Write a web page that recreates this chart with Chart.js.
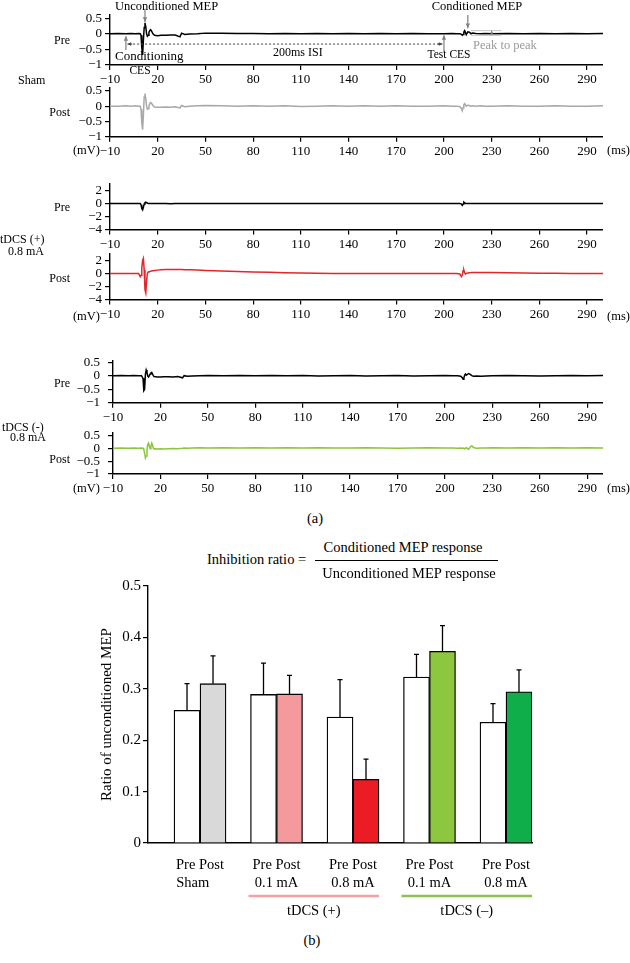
<!DOCTYPE html>
<html>
<head>
<meta charset="utf-8">
<script src="https://cdn.jsdelivr.net/npm/chart.js@4.4.0/dist/chart.umd.min.js"></script>
<style>
body { margin: 0; width: 630px; height: 963px; position: relative; background: #fff; overflow: hidden;
       font-family: "Liberation Serif", "Times New Roman", serif; color: #000; }
canvas { position: absolute; }
.t { position: absolute; line-height: 1; white-space: nowrap; }
</style>
</head>
<body>
<script>
// ---- trace data (ms / mV) ----
var timeMs = [
  -10, -5, 0, 3, 6, 8, 9, 9.5, 10, 10.5, 11, 11.5,
  12, 12.5, 13, 13.5, 14, 14.5, 15, 15.5, 16, 17, 18, 20,
  22, 25, 28, 31, 34, 35, 37, 40, 45, 50, 60, 70,
  80, 90, 100, 110, 120, 130, 140, 150, 160, 170, 180, 190,
  200, 205, 208, 210, 211, 211.5, 212, 212.5, 213, 213.5, 214, 215,
  216, 217, 218, 220, 223, 226, 230, 240, 250, 260, 270, 280, 290, 300
];
var shamPre = [
  0, 0.01, 0, 0.01, 0, 0.01, 0, -0.05, -0.45, -0.68, -0.2, 0.2,
  0.35, 0.22, 0.0, -0.08, -0.05, 0.05, 0.1, 0.13, 0.1, 0.0, -0.05, -0.06,
  -0.05, -0.05, -0.04, -0.04, -0.1, 0.02, -0.02, -0.01, 0.0, 0.02, 0.02, 0.01,
  0.01, 0.0, 0.01, 0.0, 0.01, 0.0, 0.01, 0.0, 0.01, 0.0, 0.01, 0.0,
  0.0, 0.01, 0.0, 0.0, -0.02, -0.05, -0.02, 0.06, 0.1, 0.04, -0.03, 0.06,
  0.05, 0.0, 0.02, 0.01, 0.0, 0.01, 0.0, 0.01, 0.0, 0.01, 0.0, 0.01, 0.0, 0.01
];
var shamPost = [
  0, 0, 0.01, 0, 0.01, 0, 0, -0.1, -0.55, -0.77, -0.3, 0.3,
  0.41, 0.25, 0.0, -0.1, -0.08, 0.0, 0.08, 0.12, 0.1, 0.02, -0.03, -0.04,
  -0.04, -0.03, -0.04, -0.02, -0.06, 0.02, -0.02, 0.0, 0.01, 0.02, 0.01, 0.0,
  0.01, 0.0, 0.01, -0.01, 0.0, 0.01, 0.0, 0.01, 0.0, 0.01, 0.0, 0.0,
  0.01, 0.0, 0.0, -0.02, -0.08, -0.15, -0.05, 0.05, 0.08, 0.05, 0.0, 0.03,
  0.02, 0.0, 0.01, 0.0, 0.01, 0.0, 0.0, 0.01, 0.0, 0.0, 0.01, 0.0, 0.0, 0.01
];
var plusPre = [
  0, 0, 0, 0, 0, 0, 0, -0.2, -0.8, -1.0, -0.6, -0.1,
  0.15, 0.2, 0.1, 0.05, 0, 0, 0, 0, 0, 0, 0, 0,
  0, 0, -0.05, 0, 0, 0, 0, 0, 0, 0, 0, 0,
  0, 0, 0, 0, 0, 0, 0, 0, 0, 0, 0, 0,
  0, 0, 0, 0, -0.1, -0.3, -0.1, 0.2, 0.1, 0, 0, 0,
  0, 0, 0, 0, 0, 0, 0, 0, 0, 0, 0, 0, 0, 0
];
var plusPost = [
  0, 0, 0, 0, 0, 0, -0.5, -0.3, 0.8, 2.0, 2.3, 0.5,
  -2.5, -3.0, -1.2, 0.0, 0.2, 0.25, 0.3, 0.32, 0.35, 0.4, 0.45, 0.5,
  0.55, 0.58, 0.6, 0.6, 0.58, 0.58, 0.56, 0.54, 0.5, 0.45, 0.38, 0.3,
  0.22, 0.16, 0.1, 0.06, 0.03, 0.0, -0.02, -0.03, -0.03, -0.03, -0.03, -0.03,
  -0.03, -0.03, -0.03, -0.1, -0.5, -0.3, 0.4, 0.5, 0.1, -0.1, 0.0, 0.05,
  0.1, 0.12, 0.15, 0.15, 0.15, 0.14, 0.12, 0.08, 0.05, 0.03, 0.02, 0.0, 0.0, 0.0
];
var minusPre = [
  0, 0.01, 0, 0.01, 0, 0, -0.1, -0.55, -0.5, 0.05, 0.21, 0.12,
  -0.02, -0.05, 0.0, 0.06, 0.1, 0.12, 0.06, 0.0, -0.03, -0.04, -0.05, -0.05,
  -0.04, -0.04, -0.05, -0.03, -0.08, 0.0, -0.02, -0.01, 0.0, 0.01, 0.0, 0.01,
  0.0, 0.01, 0.0, 0.01, -0.01, 0.0, 0.01, -0.01, 0.0, 0.01, -0.01, 0.0,
  0.01, 0.0, 0.0, -0.02, -0.08, -0.13, -0.08, 0.02, 0.06, 0.02, 0.04, 0.08,
  0.05, 0.0, -0.02, -0.01, -0.02, -0.01, 0.0, 0.01, 0.0, -0.01, 0.0, 0.01, 0.0, 0.01
];
var minusPost = [
  0, 0.01, 0, 0.01, 0, 0.01, 0, -0.05, -0.2, -0.38, -0.3, -0.05,
  0.15, 0.2, 0.08, -0.02, 0.1, 0.2, 0.12, 0.0, -0.03, -0.02, -0.03, -0.02,
  -0.03, -0.02, -0.01, -0.02, 0.0, 0.01, 0.0, 0.01, 0.02, 0.01, 0.02, 0.01,
  0.02, 0.01, 0.02, 0.01, 0.02, 0.01, 0.01, 0.02, 0.01, 0.0, 0.01, 0.02,
  0.01, 0.01, 0.0, 0.01, 0.0, 0.01, 0.0, -0.02, 0.0, 0.02, 0.0, -0.04,
  0.05, 0.1, 0.03, 0.0, 0.01, 0.01, 0.02, 0.01, 0.02, 0.01, 0.02, 0.01, 0.02, 0.01
];
var msTicks = [-10, 20, 50, 80, 110, 140, 170, 200, 230, 260, 290];
var smallTicks = [-1, -0.5, 0, 0.5];
var bigTicks = [-4, -2, 0, 2];

// ---- inhibition ratio data ----
var groupLabels = ['Sham', '0.1 mA', '0.8 mA', '0.1 mA', '0.8 mA'];
var preMeans = [0.258, 0.289, 0.245, 0.323, 0.235];
var preErr = [0.052, 0.061, 0.073, 0.044, 0.036];
var postMeans = [0.310, 0.290, 0.124, 0.373, 0.294];
var postErr = [0.054, 0.036, 0.039, 0.050, 0.043];
var ratioTicks = [0, 0.1, 0.2, 0.3, 0.4, 0.5];

var serif = '"Liberation Serif", "Times New Roman", serif';
var postColors = ['#d9d9d9', '#f4999c', '#ec1c24', '#8dc63f', '#10ae4a'];

function minus(v) { return String(v).replace('-', '\u2212'); }

function put(text, x, y, align, size, color) {
    var d = document.createElement('div');
    d.className = 't';
    d.textContent = text;
    d.style.left = x + 'px';
    d.style.top = y + 'px';
    d.style.fontSize = (size || 12.5) + 'px';
    if (color) d.style.color = color;
    var tx = align === 'center' ? '-50%' : (align === 'right' ? '-100%' : '0');
    d.style.transform = 'translate(' + tx + ',-50%)';
    document.body.appendChild(d);
}

function makeCanvas(left, top, w, h) {
    var c = document.createElement('canvas');
    c.width = w;
    c.height = h;
    c.style.left = left + 'px';
    c.style.top = top + 'px';
    document.body.appendChild(c);
    return c;
}

function arrow(ctx, x1, y1, x2, y2, s) {
    var a = Math.atan2(y2 - y1, x2 - x1);
    ctx.beginPath();
    ctx.moveTo(x1, y1);
    ctx.lineTo(x2, y2);
    ctx.stroke();
    ctx.beginPath();
    ctx.moveTo(x2, y2);
    ctx.lineTo(x2 - s * Math.cos(a - 0.45), y2 - s * Math.sin(a - 0.45));
    ctx.lineTo(x2 - s * Math.cos(a + 0.45), y2 - s * Math.sin(a + 0.45));
    ctx.closePath();
    ctx.fill();
}

// arrows of the sham pre trace
var notes = {
    id: 'notes',
    afterDraw: function (chart) {
        var ctx = chart.ctx, x = chart.scales.x, y = chart.scales.y;
        var px = function (t) { return x.getPixelForValue(t); };
        var py = function (v) { return y.getPixelForValue(v); };
        ctx.save();
        ctx.strokeStyle = ctx.fillStyle = '#808080';
        ctx.lineWidth = 1.2;
        arrow(ctx, px(12), py(0.8), px(12), py(0.38), 5);
        arrow(ctx, px(0), py(-0.52), px(0), py(-0.08), 5);
        arrow(ctx, px(200), py(-0.58), px(200), py(-0.05), 5);
        arrow(ctx, px(215), py(0.6), px(215), py(0.18), 5);

        // ISI
        ctx.strokeStyle = ctx.fillStyle = '#444';
        ctx.lineWidth = 1;
        ctx.setLineDash([2, 2]);
        ctx.beginPath();
        ctx.moveTo(px(2), py(-0.33));
        ctx.lineTo(px(198), py(-0.33));
        ctx.stroke();
        ctx.setLineDash([]);
        arrow(ctx, px(196), py(-0.33), px(199), py(-0.33), 4);
        arrow(ctx, px(4), py(-0.33), px(1), py(-0.33), 4);

        // peak to peak
        ctx.strokeStyle = ctx.fillStyle = '#c4c4c4';
        ctx.beginPath();
        ctx.moveTo(px(217), py(0.1)); ctx.lineTo(px(236), py(0.1));
        ctx.moveTo(px(217), py(-0.05)); ctx.lineTo(px(236), py(-0.05));
        ctx.stroke();
        ctx.strokeStyle = ctx.fillStyle = '#8a8a8a';
        arrow(ctx, px(230), py(0.02), px(230), py(0.1), 3);
        arrow(ctx, px(230), py(0.03), px(230), py(-0.05), 3);
        ctx.restore();
    }
};

var panels = [
    { values: shamPre, color: '#000', ticks: smallTicks, min: -1, max: 0.6, left: 110, top: 15, bottom: 65, pad: 15, lab: 3, notes: true },
    { values: shamPost, color: '#a8a8a8', ticks: smallTicks, min: -1, max: 0.6, left: 110, top: 87, bottom: 136.7, lab: 3 },
    { values: plusPre, color: '#000', ticks: bigTicks, min: -4, max: 3, left: 110, top: 183.5, bottom: 229.5, lab: 3 },
    { values: plusPost, color: '#e3262b', ticks: bigTicks, min: -4, max: 3, left: 110, top: 253.5, bottom: 299.5, lab: 3 },
    { values: minusPre, color: '#000', ticks: smallTicks, min: -1, max: 0.55, left: 113, top: 355.5, bottom: 402.7, lab: 8 },
    { values: minusPost, color: '#8cc63f', ticks: smallTicks, min: -1, max: 0.6, left: 113, top: 427, bottom: 474, lab: 8 }
];

var tickFont = { family: serif, size: 13 };

panels.forEach(function (p) {
    var cTop = Math.floor(p.top - (p.pad || 10));
    var pad = p.top - cTop;
    var h = Math.ceil(pad + (p.bottom - p.top) + 22);
    var axisH = h - pad - (p.bottom - p.top);
    var cv = makeCanvas(0, cTop, 603, h);
    new Chart(cv, {
        type: 'line',
        data: {
            datasets: [{
                data: timeMs.map(function (t, i) { return { x: t, y: p.values[i] }; }),
                borderColor: p.color,
                borderWidth: 1.5,
                pointRadius: 0,
                tension: 0,
                fill: false
            }]
        },
        options: {
            responsive: false,
            animation: false,
            events: [],
            layout: { padding: { top: pad, left: 0, right: 0, bottom: 0 } },
            plugins: { legend: { display: false }, tooltip: { enabled: false } },
            scales: {
                x: {
                    type: 'linear', min: -10, max: 300,
                    afterBuildTicks: function (s) { s.ticks = msTicks.map(function (v) { return { value: v }; }); },
                    afterFit: function (s) { s.height = axisH; },
                    grid: { drawOnChartArea: false, drawTicks: true, tickLength: 5, color: '#000', lineWidth: 1.2 },
                    border: { color: '#000', width: 1.4 },
                    ticks: { font: tickFont, color: '#000', padding: 2, maxRotation: 0, autoSkip: false, callback: minus }
                },
                y: {
                    type: 'linear', min: p.min, max: p.max,
                    afterBuildTicks: function (s) { s.ticks = p.ticks.map(function (v) { return { value: v }; }); },
                    afterFit: function (s) { s.width = p.left; },
                    grid: { drawOnChartArea: false, drawTicks: true, tickLength: 5, color: '#000', lineWidth: 1.2 },
                    border: { color: '#000', width: 1.4 },
                    ticks: { font: tickFont, color: '#000', padding: p.lab, autoSkip: false, callback: minus }
                }
            }
        },
        plugins: p.notes ? [notes] : []
    });
});

// error bars and group brackets for the ratio chart
var errorBars = {
    id: 'errorBars',
    afterDatasetsDraw: function (chart) {
        var ctx = chart.ctx, y = chart.scales.y;
        ctx.save();
        ctx.strokeStyle = '#000';
        ctx.lineWidth = 1.3;
        chart.data.datasets.forEach(function (ds, di) {
            chart.getDatasetMeta(di).data.forEach(function (bar, i) {
                var top = y.getPixelForValue(ds.data[i].y + ds.err[i]);
                ctx.beginPath();
                ctx.moveTo(bar.x, bar.y);
                ctx.lineTo(bar.x, top);
                ctx.moveTo(bar.x - 2.5, top);
                ctx.lineTo(bar.x + 2.5, top);
                ctx.stroke();
            });
        });
        ctx.restore();
    }
};

var brackets = {
    id: 'brackets',
    afterDraw: function (chart) {
        var ctx = chart.ctx, x = chart.scales.x, base = chart.chartArea.bottom;
        var groups = [
            { from: 2, to: 3, color: '#f3a3a5', text: 'tDCS (+)' },
            { from: 4, to: 5, color: '#8dc153', text: 'tDCS (\u2013)' }
        ];
        ctx.save();
        groups.forEach(function (g) {
            var a = x.getPixelForValue(g.from) - 28, b = x.getPixelForValue(g.to) + 26;
            ctx.strokeStyle = g.color;
            ctx.lineWidth = 2.5;
            ctx.beginPath();
            ctx.moveTo(a, base + 53);
            ctx.lineTo(b, base + 53);
            ctx.stroke();
            ctx.fillStyle = '#000';
            ctx.font = '14.5px ' + serif;
            ctx.textAlign = 'center';
            ctx.textBaseline = 'middle';
            ctx.fillText(g.text, (a + b) / 2, base + 68);
        });
        ctx.restore();
    }
};

var barTop = 585.7, barBottom = 843;
var barCv = makeCanvas(0, 575, 540, 350);
new Chart(barCv, {
    type: 'bar',
    data: {
        datasets: [{
            label: 'Pre',
            data: groupLabels.map(function (g, i) { return { x: i + 1, y: preMeans[i] }; }),
            err: preErr,
            backgroundColor: '#fff',
            borderColor: '#000',
            borderWidth: 1.3,
            barThickness: 26
        }, {
            label: 'Post',
            data: groupLabels.map(function (g, i) { return { x: i + 1, y: postMeans[i] }; }),
            err: postErr,
            backgroundColor: postColors,
            borderColor: '#000',
            borderWidth: 1.3,
            barThickness: 26
        }]
    },
    options: {
        responsive: false,
        animation: false,
        events: [],
        layout: { padding: { top: barTop - 575, left: 0, right: 8, bottom: 0 } },
        plugins: { legend: { display: false }, tooltip: { enabled: false } },
        scales: {
            x: {
                type: 'linear', min: 0.32, max: 5.34, offset: false,
                afterBuildTicks: function (s) { s.ticks = groupLabels.map(function (g, i) { return { value: i + 1 }; }); },
                afterFit: function (s) { s.height = 350 - (barTop - 575) - (barBottom - barTop); },
                grid: { display: false, offset: false },
                border: { color: '#000', width: 1.4 },
                ticks: {
                    font: { family: serif, size: 14.5, lineHeight: 1.25 }, color: '#000', padding: 5,
                    maxRotation: 0, autoSkip: false,
                    callback: function (v) { return ['Pre Post', groupLabels[v - 1] === 'Sham' ? 'Sham    ' : groupLabels[v - 1]]; }
                }
            },
            y: {
                min: 0, max: 0.5,
                afterBuildTicks: function (s) { s.ticks = ratioTicks.map(function (v) { return { value: v }; }); },
                afterFit: function (s) { s.width = 148; },
                grid: { drawOnChartArea: false, drawTicks: true, tickLength: 5, color: '#000', lineWidth: 1.2 },
                border: { color: '#000', width: 1.4 },
                ticks: {
                    font: { family: serif, size: 15 }, color: '#000', padding: 2, autoSkip: false,
                    callback: function (v) { return v === 0 ? '0' : v.toFixed(1); }
                },
                title: {
                    display: true, text: 'Ratio of unconditioned MEP', color: '#000',
                    font: { family: serif, size: 15 }, padding: { top: 98, bottom: 0 }
                }
            }
        }
    },
    plugins: [errorBars, brackets]
});

// ---- text ----
put('Unconditioned MEP', 115, 6, 'left', 12.5);
put('Conditioning', 115, 55, 'left', 13);
put('CES', 140, 71, 'center', 11.5);
put('200ms ISI', 273, 52, 'left', 12);
put('Test CES', 449, 55, 'center', 11.5);
put('Conditioned MEP', 477, 6, 'center', 12.5);
put('Peak to peak', 473, 45, 'left', 12.5, '#9a9a9a');

put('Pre', 70, 40, 'right', 12);
put('Sham', 18, 80, 'left', 12);
put('Post', 70, 112, 'right', 12);
put('(mV)', 100, 150, 'right', 12.5);
put('(ms)', 607, 150, 'left', 12.5);

put('Pre', 70, 207, 'right', 12);
put('tDCS (+)', 0, 239, 'left', 12);
put('0.8 mA', 8, 251, 'left', 12);
put('Post', 70, 278, 'right', 12);
put('(mV)', 100, 316, 'right', 12.5);
put('(ms)', 607, 316, 'left', 12.5);

put('Pre', 70, 383, 'right', 12);
put('tDCS (-)', 2, 427, 'left', 12);
put('0.8 mA', 10, 437, 'left', 12);
put('Post', 70, 459, 'right', 12);
put('(mV)', 100, 488, 'right', 12.5);
put('(ms)', 607, 488, 'left', 12.5);

put('(a)', 315, 518, 'center', 14.5);

put('Inhibition ratio =', 207, 559, 'left', 14.5);
put('Conditioned MEP response', 403, 547, 'center', 14.5);
put('Unconditioned MEP response', 409, 573, 'center', 14.5);
var bar = document.createElement('div');
bar.style.cssText = 'position:absolute;left:315px;top:560px;width:183px;height:1px;background:#000;';
document.body.appendChild(bar);

put('(b)', 312, 940, 'center', 14.5);
</script>
</body>
</html>
